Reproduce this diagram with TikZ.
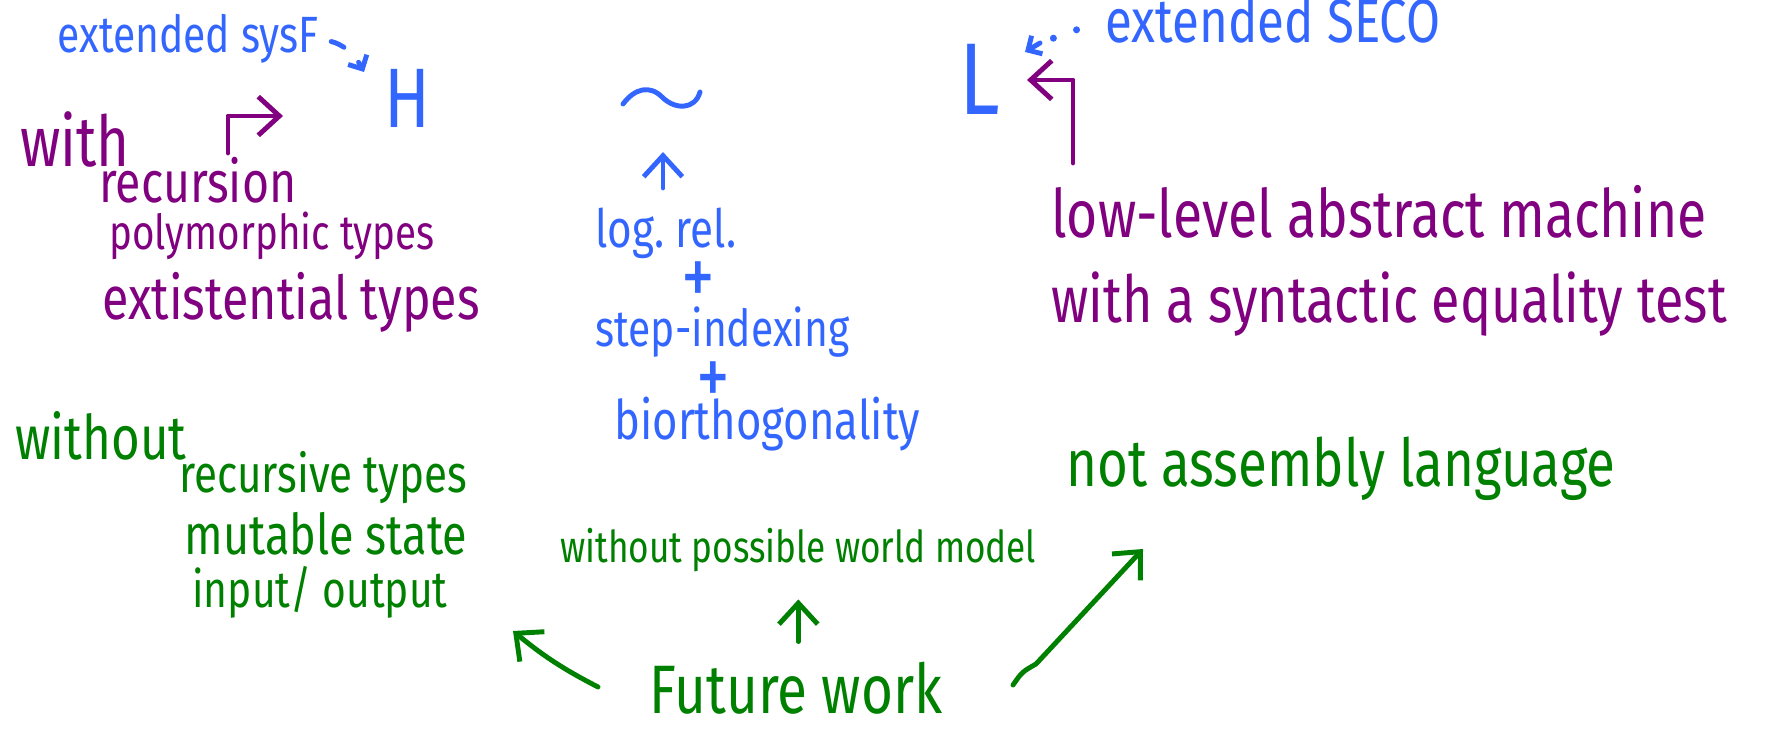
\documentclass[tikz,border=0pt]{standalone}
\usepackage{fontspec}
\usepackage{tikz}
\usetikzlibrary{arrows.meta,calc}
\newfontfamily\inkfont[FakeStretch=0.8]{Fira Sans}
\definecolor{inkblue}{RGB}{51,102,255}
\definecolor{inkpurple}{RGB}{128,0,128}
\definecolor{inkgreen}{RGB}{0,128,0}

\begin{document}
\begin{tikzpicture}[x=0.01cm, y=-0.01cm, line width=1.4pt, line cap=round, line join=round,
    scrawl/.style={inner sep=0pt, anchor=base west, font=\inkfont\fontsize{#1}{#1}\selectfont},
    pen/.style={-{Straight Barb[length=6pt, width=11pt]}},
    smallpen/.style={-{Straight Barb[length=3pt, width=6pt]}}]
    \useasboundingbox (0,0) rectangle (1767,731);

    % H and its extensions
    \node [scrawl=14.5, inkblue] (sysf) at (55,53) {extended sysF};
    \node [scrawl=24, inkblue] (hlang) at (382,128) {H};
    \node [scrawl=20, inkpurple] (with) at (18,167) {with};
    \node [scrawl=16.5, inkpurple] (recursion) at (97,203) {recursion};
    \node [scrawl=13.7, inkpurple] (poly) at (107,250) {polymorphic types};
    \node [scrawl=17.2, inkpurple] (exist) at (100,320) {extistential types};
    \coordinate (withfoot) at (228,153);
    \coordinate (withhead) at (283,116);
    \coordinate (hhead) at (364,72);

    % the relation
    \draw [inkblue] (623,104) .. controls (635,88) and (650,85) .. (662,97) .. controls (675,110) and (695,110) .. (700,92);
    \coordinate (simfoot) at (663,152);
    \coordinate (relup) at (663,188);
    \node [scrawl=15, inkblue] (logrel) at (593,248) {log.\ rel.};
    \node [scrawl=24, inkblue, anchor=center] (plusa) at (698,284) {+};
    \node [scrawl=14.5, inkblue] (stepidx) at (593,347) {step-indexing};
    \node [scrawl=24, inkblue, anchor=center] (plusb) at (713,384) {+};
    \node [scrawl=15.5, inkblue] (biorth) at (612,440) {biorthogonality};

    % L
    \node [scrawl=29, inkblue] (llang) at (957,115) {L};
    \node [scrawl=17.5, inkblue] (seco) at (1103,43) {extended SECO};
    \node [scrawl=19, inkpurple] (machine) at (1049,238) {low-level abstract machine};
    \node [scrawl=18.5, inkpurple] (eqtest) at (1049,323) {with a syntactic equality test};
    \coordinate (machfoot) at (1073,163);
    \coordinate (machhead) at (1027,80);
    \coordinate (lneck) at (1040,43);
    \coordinate (lhead) at (1025,52);

    % future work
    \node [scrawl=17.5, inkgreen] (without) at (13,460) {without};
    \node [scrawl=15, inkgreen] (rectypes) at (177,493) {recursive types};
    \node [scrawl=16, inkgreen] (mutable) at (182,555) {mutable state};
    \node [scrawl=14.5, inkgreen] (io) at (190,607) {input/ output};
    \node [scrawl=18.8, inkgreen] (notasm) at (1064,487) {not assembly language};
    \node [scrawl=12.5, inkgreen] (worlds) at (558,563) {without possible world model};
    \node [scrawl=19.5, inkgreen] (future) at (647,713) {Future work};
    \coordinate (fwleft) at (598,687);
    \coordinate (iohead) at (513,631);
    \coordinate (fwright) at (1013,685);
    \coordinate (asmhead) at (1143,549);

    \draw [smallpen, inkblue, dash pattern=on 4pt off 6pt, shorten <=3pt] (sysf.east) to [bend left=25] (hhead);
    \draw [inkblue, dash pattern=on 0pt off 7pt, line width=2pt, shorten <=8pt] (seco.west) -- (lneck);
    \draw [smallpen, inkblue] (lneck) -- (lhead);
    \draw [pen, inkpurple] (withfoot) |- (withhead);
    \draw [pen, inkpurple] (machfoot) |- (machhead);
    \draw [pen, inkblue] (relup) -- (simfoot);
    \draw [pen, inkgreen] (fwleft) to [bend left=6] (iohead);
    \draw [pen, inkgreen, shorten <=5pt, shorten >=7pt] (future.north -| worlds.south) -- (worlds.south);
    \draw [pen, inkgreen] (fwright) .. controls (1022,672) .. (1036,664) -- (asmhead);
\end{tikzpicture}
\end{document}
